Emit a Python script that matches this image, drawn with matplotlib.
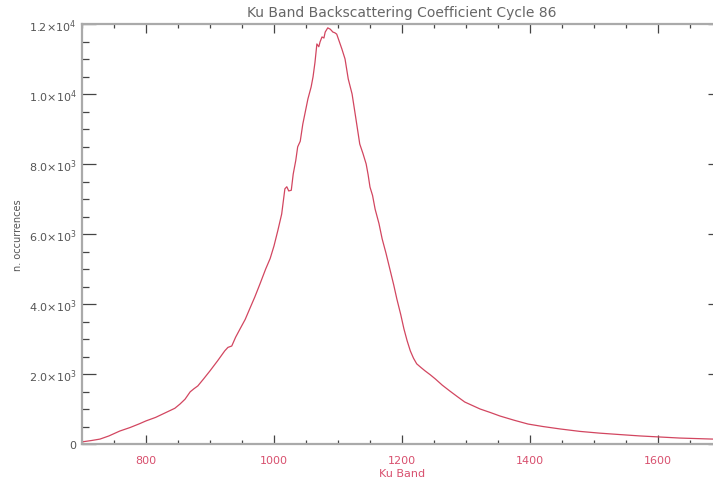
import matplotlib
matplotlib.use("Agg")
import matplotlib.pyplot as plt
from matplotlib.ticker import MultipleLocator, FixedLocator

# Data (Ku band value, occurrences)
ku_band = [700, 715, 728, 742, 759, 775, 790, 800, 815, 830, 845, 853, 861, 869, 875,
           881, 890, 900, 912, 923, 928, 934, 940, 947, 955, 962, 970, 978, 987, 994,
           1000, 1006, 1012, 1017, 1020, 1023, 1027, 1030, 1034, 1037, 1041, 1045, 1049,
           1053, 1058, 1061, 1064, 1067, 1070, 1072, 1075, 1078, 1080, 1084, 1088, 1092,
           1095, 1098, 1102, 1106, 1111, 1116, 1122, 1128, 1134, 1139, 1144, 1147, 1150,
           1154, 1158, 1164, 1169, 1175, 1181, 1187, 1192, 1198, 1203, 1208, 1213, 1218,
           1223, 1230, 1236, 1244, 1252, 1263, 1275, 1286, 1298, 1310, 1322, 1338, 1353,
           1375, 1397, 1420, 1447, 1478, 1509, 1540, 1572, 1603, 1634, 1660, 1686, 1700]
occurrences = [60, 100, 140, 230, 370, 470, 580, 660, 760, 890, 1020, 1140, 1280, 1490,
               1580, 1660, 1860, 2090, 2380, 2660, 2760, 2800, 3050, 3290, 3560, 3860, 4200,
               4570, 5000, 5300, 5660, 6100, 6570, 7290, 7350, 7230, 7250, 7710, 8100, 8490,
               8650, 9140, 9500, 9860, 10200, 10490, 10900, 11430, 11350, 11490, 11630, 11600,
               11770, 11890, 11850, 11770, 11750, 11710, 11500, 11290, 11000, 10430, 10000,
               9290, 8570, 8300, 8000, 7700, 7340, 7100, 6710, 6300, 5860, 5450, 5000, 4550,
               4140, 3700, 3290, 2950, 2660, 2450, 2290, 2180, 2090, 1980, 1860, 1680, 1510,
               1360, 1200, 1100, 1000, 900, 800, 680, 570, 500, 430, 360, 310, 270, 230, 200,
               170, 155, 140, 130]

title = "Ku Band Backscattering Coefficient Cycle 86"
xlabel = "Ku Band"
ylabel = "n. occurrences"
yticks = [0, 2000, 4000, 6000, 8000, 10000, 12000]
ytick_labels = ["0", r"$2.0{\times}10^{3}$", r"$4.0{\times}10^{3}$", r"$6.0{\times}10^{3}$",
                r"$8.0{\times}10^{3}$", r"$1.0{\times}10^{4}$", r"$1.2{\times}10^{4}$"]
xticks = [800, 1000, 1200, 1400, 1600]

gray_text = "#555555"
pink = "#d8506e"
line_col = "#d24660"

fig = plt.figure(figsize=(7.13, 4.81), dpi=100)
ax = fig.add_axes([82/713, 36/481, 640/713, 420/481])

ax.plot(ku_band, occurrences, color=line_col, lw=0.9)
ax.set_xlim(700, 1700)
ax.set_ylim(0, 12000)

ax.set_xticks(xticks)
ax.set_xticklabels([str(v) for v in xticks])
ax.xaxis.set_minor_locator(MultipleLocator(50))
ax.set_yticks(yticks)
ax.set_yticklabels(ytick_labels)
ax.yaxis.set_minor_locator(MultipleLocator(500))

ax.tick_params(axis="x", which="major", direction="in", length=6.5, width=0.9,
               color="#444444", top=True, bottom=True, labelsize=8, labelcolor=pink, pad=8)
ax.tick_params(axis="x", which="minor", direction="in", length=3.2, width=0.9,
               color="#444444", top=True, bottom=True)
ax.tick_params(axis="y", which="major", direction="in", length=10, width=0.9,
               color="#444444", left=True, right=True, labelsize=8, labelcolor=gray_text, pad=4)
ax.tick_params(axis="y", which="minor", direction="in", length=5, width=0.9,
               color="#444444", left=True, right=True)

for s in ax.spines.values():
    s.set_color("#aaaaaa")
    s.set_linewidth(1.6)

ax.set_title(title, fontsize=10, color="#666666", pad=6)
ax.set_xlabel(xlabel, fontsize=8, color=pink, labelpad=2)
fig.text(18/713, 1 - 235/481, ylabel, rotation=90, fontsize=7, color=gray_text,
         ha="center", va="center")

fig.savefig("out.png", dpi=100)
